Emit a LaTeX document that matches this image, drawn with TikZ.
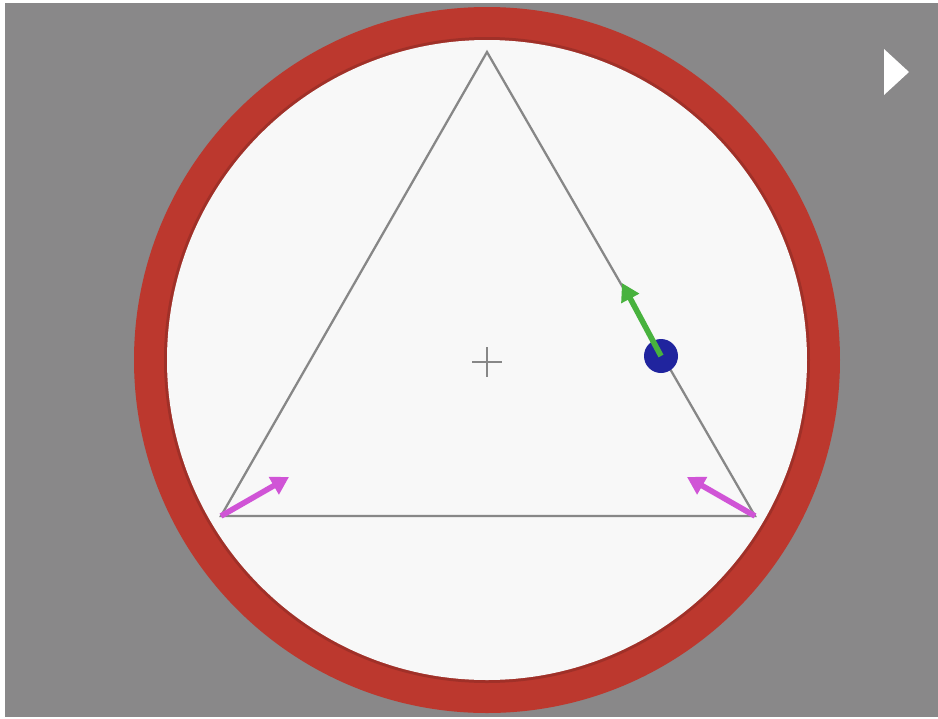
\documentclass[tikz,border=0pt]{standalone}
\usepackage{tikz}
\usetikzlibrary{arrows.meta,calc}
\usepackage{xcolor}
\definecolor{bggray}{RGB}{137,136,137}
\definecolor{rimred}{RGB}{188,56,46}
\definecolor{rimdark}{RGB}{160,48,40}
\definecolor{facewhite}{RGB}{248,248,248}
\definecolor{edgegray}{RGB}{135,135,135}
\definecolor{velgreen}{RGB}{72,178,62}
\definecolor{reactmag}{RGB}{208,84,214}
\definecolor{ballblue}{RGB}{32,36,158}
\tikzset{
    triedge/.style={draw=edgegray, line width=1.3pt},
    vec/.style={-{Triangle[length=10pt,width=11pt]}, line width=3.2pt, #1},
    crossmark/.style={draw=edgegray, line width=1.2pt},
}

\begin{document}
\begin{tikzpicture}[x=0.02cm, y=-0.02cm]
    % frame
    \useasboundingbox (0,0) rectangle (938,718);
    \fill[white] (0,0) rectangle (938,718);
    \fill[bggray] (5,3) rectangle (938,717);

    % rim and face
    \coordinate (ctr) at (487,360);
    \fill[rimred] (ctr) circle (353);
    \fill[rimdark] (ctr) circle (323);
    \fill[facewhite] (ctr) circle (320);

    % triangle
    \coordinate (top) at (487,52);
    \coordinate (bl)  at (221,516);
    \coordinate (br)  at (755,516);
    \coordinate (mid) at (487,362);
    \draw[triedge] (top) -- (br) -- (bl) -- cycle;
    \draw[crossmark] ($(mid)+(-15,0)$) -- ($(mid)+(15,0)$);
    \draw[crossmark] ($(mid)+(0,-15)$) -- ($(mid)+(0,15)$);

    % reaction forces at the corners
    \coordinate (blt) at (289,477);
    \coordinate (brt) at (687,477);
    \draw[vec=reactmag] (bl) -- (blt);
    \draw[vec=reactmag] (br) -- (brt);

    % ball and its velocity
    \coordinate (ball) at (661,356);
    \coordinate (ballv) at (622,283);
    \fill[ballblue] (ball) circle (17);
    \draw[vec=velgreen] (ball) -- (ballv);

    % play marker
    \coordinate (pa) at (884,49);
    \coordinate (pb) at (884,95);
    \coordinate (pc) at (909,72);
    \fill[white] (pa) -- (pc) -- (pb) -- cycle;
\end{tikzpicture}
\end{document}
